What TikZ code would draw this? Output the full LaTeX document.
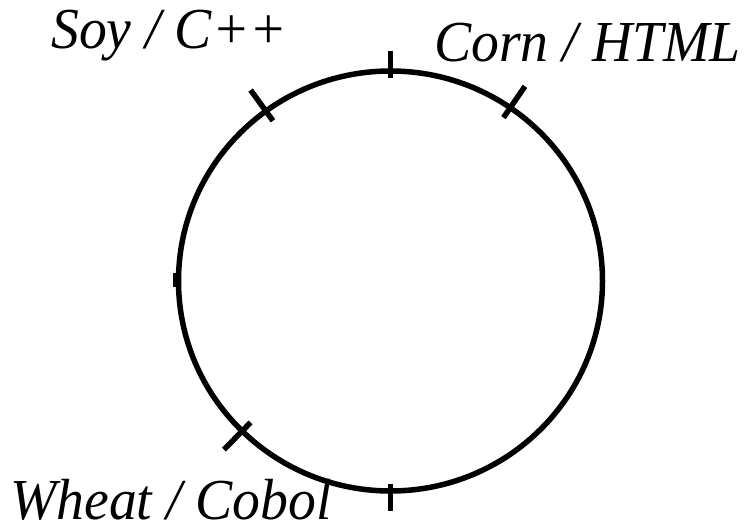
\documentclass[tikz,border=0pt]{standalone}
\usepackage{fontspec}
\setmainfont{Liberation Serif}
\usetikzlibrary{calc}
\newcommand{\lbltext}[1]{\scalebox{0.96}[1]{#1}}
\tikzset{
  ring/.style={line width=5.5pt, black},
  tickmark/.style={line width=5.5pt, black},
  lbl/.style={anchor=base west, inner sep=0pt, font=\fontsize{58}{62}\selectfont\itshape}
}
\begin{document}
\begin{tikzpicture}[x=1pt,y=-1pt]
\useasboundingbox (0,0) rectangle (749,529);
\coordinate (c) at (390.5,281);
\draw[ring] (c) ellipse [x radius=212, y radius=210];
% vertical ticks (visual angles negated because y points down)
\foreach \a in {-90,90}{
  \draw[tickmark] ($(c)+(\a:205 and 203)$) -- ($(c)+(\a:232 and 230)$);
}
% diagonal ticks
\foreach \a in {-126,-55.6,134.4}{
  \draw[tickmark] ($(c)+(\a:200 and 198)$) -- ($(c)+(\a:238 and 236)$);
}
\fill (173,273) rectangle (180,287);
\node[lbl] (soy) at (51,49) {\lbltext{Soy / C++}};
\node[lbl] (corn) at (434,62) {\lbltext{Corn / HTML}};
\node[lbl] (wheat) at (10,519) {\lbltext{Wheat / Cobol}};
\end{tikzpicture}
\end{document}
